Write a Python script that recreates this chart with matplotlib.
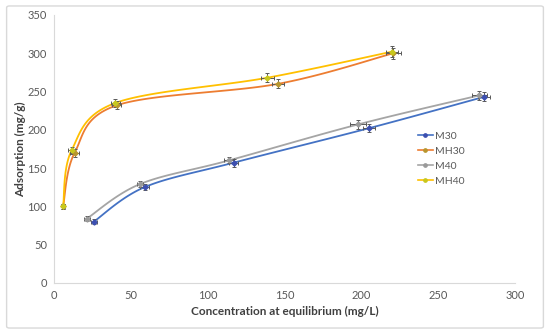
import numpy as np
import matplotlib
matplotlib.use("Agg")
import matplotlib.pyplot as plt
from matplotlib.patches import FancyBboxPatch

plt.rcParams['font.family'] = ['Lato', 'DejaVu Sans']

# data
m30_x = [26, 59, 117, 205, 280]
m30_y = [80, 125, 157, 202, 243]
mh30_x = [6, 13.5, 41, 146, 221]
mh30_y = [100, 170, 232, 260, 300]
m40_x = [21.5, 56, 114, 198, 277]
m40_y = [84, 129, 160, 207, 245]
mh40_x = [6, 11.5, 40, 139, 220]
mh40_y = [100, 173, 235, 268, 302]

xerr = [[2, 3, 3, 4, 4], [1, 3, 3, 4, 5], [2, 2, 3, 5, 5], [1, 2, 3, 4, 4]]
yerr = [[3, 4, 5, 5, 6], [3, 5, 5, 6, 7], [3, 4, 4, 6, 6], [3, 5, 5, 6, 7]]

names = ['M30', 'MH30', 'M40', 'MH40']
line_cols = ['#4472C4', '#ED7D31', '#A5A5A5', '#FFC000']
mark_cols = ['#3C4FB0', '#B8962E', '#9A9A9A', '#C8C81E']


def smooth(xs, ys, n=30):
    # excel-like smoothed line (catmull-rom through the points)
    pts = np.column_stack([xs, ys]).astype(float)
    p = np.vstack([pts[0], pts, pts[-1]])
    out = []
    t = np.linspace(0, 1, n)
    for i in range(1, len(p) - 2):
        p0, p1, p2, p3 = p[i - 1], p[i], p[i + 1], p[i + 2]
        c1 = p1 + (p2 - p0) / 6
        c2 = p2 - (p3 - p1) / 6
        seg = ((1 - t) ** 3)[:, None] * p1 + (3 * (1 - t) ** 2 * t)[:, None] * c1 \
            + (3 * (1 - t) * t ** 2)[:, None] * c2 + (t ** 3)[:, None] * p2
        out.append(seg)
    out = np.vstack(out)
    return out[:, 0], out[:, 1]


fig = plt.figure(figsize=(5.5, 3.32), dpi=100)
frame = FancyBboxPatch((0.012, 0.012), 0.976, 0.97, boxstyle="round,pad=0,rounding_size=0.005",
                       transform=fig.transFigure, fc='white', ec='#d9d9d9', lw=1, zorder=-10)
fig.patches.append(frame)
ax = fig.add_axes([0.098, 0.148, 0.838, 0.807])
ax.patch.set_alpha(0)

series = [(m30_x, m30_y), (mh30_x, mh30_y), (m40_x, m40_y), (mh40_x, mh40_y)]
for i, (xs, ys) in enumerate(series):
    sx, sy = smooth(xs, ys)
    ax.plot(sx, sy, color=line_cols[i], lw=1.3, zorder=3)
    ax.errorbar(xs, ys, xerr=xerr[i], yerr=yerr[i], fmt='none', ecolor='#595959',
                elinewidth=0.7, capsize=1.5, capthick=0.7, zorder=4)
    ax.plot(xs, ys, ls='none', marker='D', ms=2.6, color=mark_cols[i], zorder=5)
    ax.plot([], [], color=line_cols[i], marker='o', ms=2.4, mfc=mark_cols[i], mec=mark_cols[i],
            lw=1.2, label=names[i])

ax.set_xlim(0, 300)
ax.set_ylim(0, 350)
ax.set_xticks(range(0, 301, 50))
ax.set_yticks(range(0, 351, 50))
for s in ['top', 'right']:
    ax.spines[s].set_visible(False)
for s in ['left', 'bottom']:
    ax.spines[s].set_color('#d9d9d9')
ax.tick_params(length=0, colors='#595959', labelsize=8, pad=5)
ax.set_xlabel('Concentration at equilibrium (mg/L)', fontsize=8.5, fontweight='bold', color='#404040', labelpad=4)
ax.set_ylabel('Adsorption (mg/g)', fontsize=8.5, fontweight='bold', color='#404040', labelpad=1)

leg = ax.legend(loc='upper left', bbox_to_anchor=(0.78, 0.58), frameon=False, fontsize=7.5,
                handlelength=1.5, handletextpad=0.2, labelspacing=0.55, borderaxespad=0)
for t in leg.get_texts():
    t.set_color('#595959')

fig.savefig('out.png', dpi=100)
